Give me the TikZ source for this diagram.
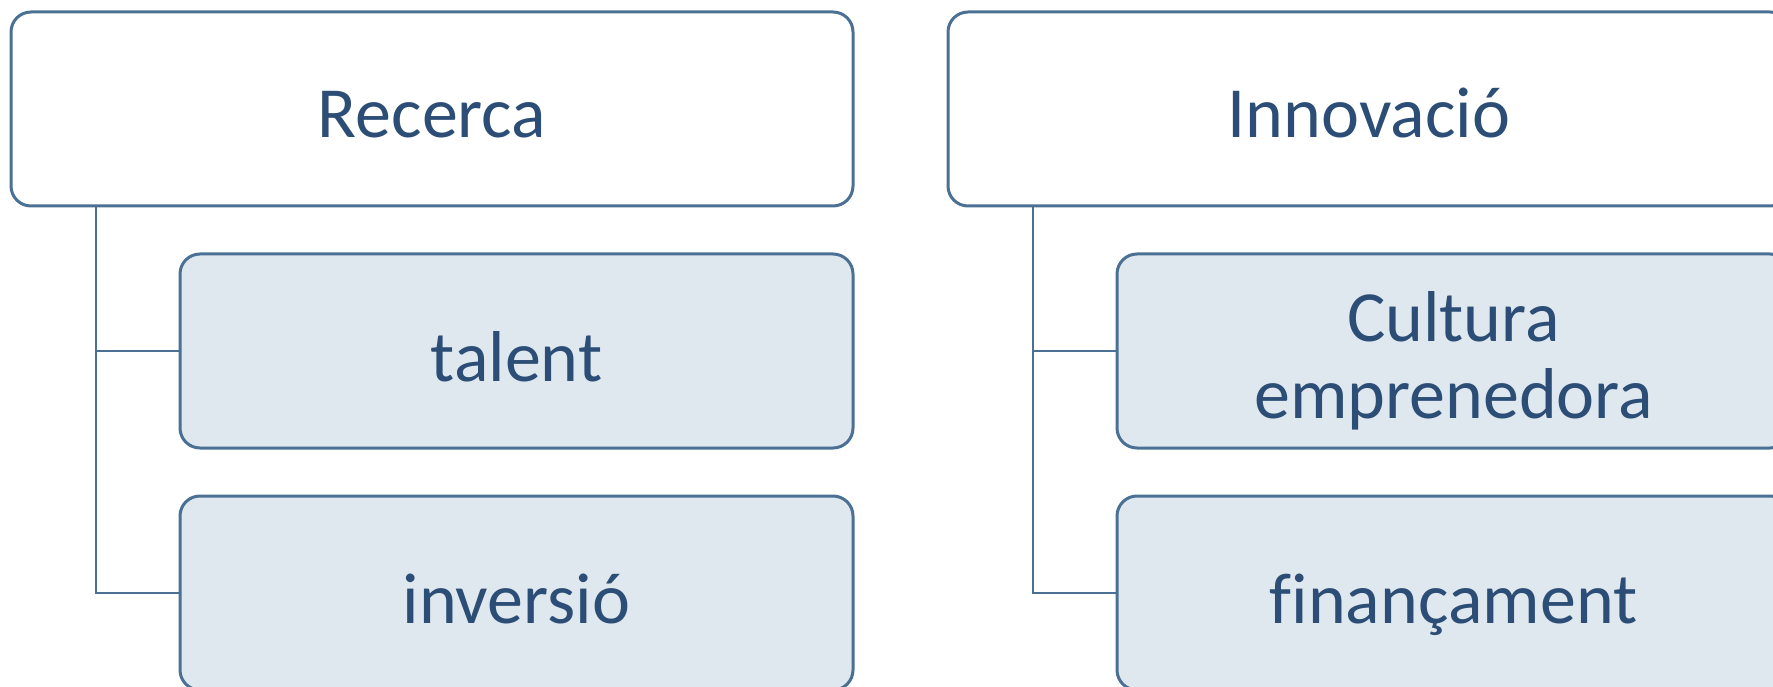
\documentclass[tikz,border=0pt]{standalone}
\usepackage{fontspec}
\setmainfont{Carlito}[Ligatures=NoCommon]
\definecolor{strokeblue}{RGB}{74,113,148}
\definecolor{fillblue}{RGB}{223,231,239}
\definecolor{textblue}{RGB}{44,77,117}
\begin{document}
\begin{tikzpicture}[x=1pt,y=-1pt,
  parentbox/.style={draw=strokeblue,line width=3pt,rounded corners=20pt,fill=white,minimum width=842pt,minimum height=194pt,inner sep=0pt},
  childbox/.style={draw=strokeblue,line width=3pt,rounded corners=20pt,fill=fillblue,minimum width=673pt,minimum height=194pt,inner sep=0pt},
  lbl/.style={text=textblue,font=\fontsize{72}{77}\selectfont,inner sep=0pt,anchor=base,align=center},
  conn/.style={draw=strokeblue,line width=2.6pt}]
\useasboundingbox (0,0) rectangle (1773,687);
\clip (0,0) rectangle (1773,687);
% left column
\node[parentbox] (pL) at (432,109) {};
\node[childbox] (cL1) at (516.5,351) {};
\node[childbox] (cL2) at (516.5,593) {};
\coordinate (tL) at (96,206);
\draw[conn] (tL) |- (cL2.west);
\draw[conn] (tL |- cL1.west) -- (cL1.west);
% right column
\node[parentbox] (pR) at (1369,109) {};
\node[childbox] (cR1) at (1453.5,351) {};
\node[childbox] (cR2) at (1453.5,593) {};
\coordinate (tR) at (1033,206);
\draw[conn] (tR) |- (cR2.west);
\draw[conn] (tR |- cR1.west) -- (cR1.west);
% labels
\node[lbl] (lRecerca) at (432,138) {Recerca};
\node[lbl] (lTalent) at (516.5,381.5) {talent};
\node[lbl] (lInversio) at (516.5,623.5) {inversió};
\node[lbl] (lInnovacio) at (1369,138) {Innovació};
\node[lbl] (lCultura) at (1453.5,418) {Cultura\\emprenedora};
\node[lbl] (lFinan) at (1453.5,623.5) {finançament};
\end{tikzpicture}
\end{document}
